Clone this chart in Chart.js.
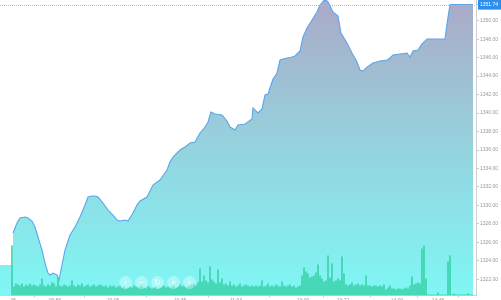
<!DOCTYPE html>
<html lang="zh">
  <head>
    <meta charset="UTF-8" />
    <title>分时走势</title>
    <style>
      * {
        box-sizing: border-box;
        margin: 0;
        padding: 0;
      }

      body {
        background: #fff;
        width: 501px;
        height: 300px;
        overflow: hidden;
        font-family: "Liberation Sans", Arial, sans-serif;
      }

      .wrap {
        position: relative;
        width: 501px;
        height: 300px;
      }

      .zoom-btns {
        position: absolute;
        left: 119px;
        top: 276px;
        display: flex;
        gap: 3px;
      }

      .zoom-btns span {
        width: 13px;
        height: 13px;
        border-radius: 50%;
        background: rgba(255, 255, 255, 0.35);
        color: rgba(255, 255, 255, 0.9);
        font-size: 8px;
        line-height: 13px;
        text-align: center;
      }
    </style>
    <script src="https://cdn.jsdelivr.net/npm/chart.js"></script>
  </head>
  <body>
    <div class="wrap">
      <canvas id="priceChart" width="501" height="300"></canvas>
      <div class="zoom-btns">
        <span>‹</span><span>−</span><span>↻</span><span>+</span><span>›</span>
      </div>
    </div>
    <script>
      // time index: one step per ~2 minutes of session
      const X_MAX = 238;
      const X_TICK_POS = [6.5, 27.5, 56.5, 90, 118, 151.5, 171.5, 198.5, 219];
      const X_TICK_LABELS = ["48", "09:56", "10:05", "10:35", "11:03", "13:00", "13:22", "14:00", "14:45"];

      const Y_MIN = 1320.25;
      const Y_MAX = 1352.24;
      const Y_TICKS = [1322, 1324, 1326, 1328, 1330, 1332, 1334, 1336, 1338, 1340, 1342, 1344, 1346, 1348, 1350];
      const LAST_PRICE = 1351.74;

      // before the open
      const PRE_T = [0, 6.5];
      const PRE_V = [1323.55, 1323.55];

      const PRICE_T = [
        6.5, 8.5, 10, 12.5, 14, 16, 17.5, 19, 21, 22.5,
        24, 25, 26.5, 28.5, 29.5, 31, 32.5, 35, 37.5, 40,
        42.5, 44, 46, 47.5, 49, 51.5, 54, 56.5, 58.5, 60,
        62.5, 64, 66.5, 68.5, 70, 73.5, 76.5, 80, 83.5, 85,
        86.5, 90, 92.5, 95, 97.5, 100, 102.5, 104, 105.5, 107.5,
        111, 113.5, 115, 117.5, 119, 122.5, 126, 126.5, 129, 131,
        132.5, 134, 136.5, 138.5, 140, 141.5, 143.5, 146, 147.5, 150,
        151.5, 153.5, 156, 158.5, 160, 162.5, 164, 166.5, 169, 170.5,
        173.5, 176, 178.5, 180, 181.5, 183.5, 186.5, 190, 193.5, 195,
        196.5, 200, 203.5, 205, 206.5, 209, 211, 213.5, 216.5, 222.5,
        223.5, 225, 236.5,
      ];
      const PRICE_V = [
        1327.01, 1328.1, 1328.64, 1328.75, 1328.64, 1328.31, 1327.66, 1326.58, 1325.17, 1323.76,
        1322.68, 1322.47, 1322.68, 1322.47, 1321.92, 1323.55, 1325.17, 1326.8, 1327.66, 1328.75,
        1330.04, 1330.91, 1331.02, 1331.02, 1330.91, 1330.26, 1329.5, 1328.96, 1328.42, 1328.31,
        1328.42, 1328.31, 1329.18, 1330.04, 1330.48, 1330.91, 1332.21, 1332.75, 1333.83, 1334.7,
        1335.24, 1336.0, 1336.32, 1336.76, 1336.87, 1337.84, 1338.49, 1339.03, 1340.12, 1339.9,
        1339.79, 1339.14, 1338.49, 1338.17, 1338.71, 1338.82, 1339.36, 1340.55, 1340.01, 1340.44,
        1341.96, 1342.06, 1343.69, 1344.34, 1345.75, 1345.86, 1345.97, 1346.07, 1346.18, 1346.72,
        1348.24, 1349.21, 1350.08, 1350.95, 1351.7, 1352.3, 1352.03, 1350.95, 1350.51, 1348.67,
        1347.59, 1346.5, 1345.53, 1344.66, 1344.55, 1344.98, 1345.42, 1345.64, 1345.75, 1345.96,
        1346.29, 1346.4, 1346.5, 1346.07, 1346.72, 1346.83, 1347.48, 1348.02, 1348.02, 1348.02,
        1349.65, 1351.74, 1351.74,
      ];

      // volume, one bar per time step starting at VOL_START
      const VOL_START = 6;
      const VOL_AXIS_MAX = 295;
      const VOLUME = [
        50, 9, 12, 11, 10, 12, 9, 11, 10, 12,
        10, 11, 10, 9, 11, 17, 10, 9, 11, 10,
        13, 12, 9, 18, 10, 9, 11, 10, 9, 10,
        15, 10, 9, 11, 10, 12, 9, 10, 11, 9,
        10, 11, 9, 10, 11, 10, 9, 10, 8, 10,
        9, 10, 8, 9, 10, 8, 9, 7, 8, 9,
        8, 10, 9, 8, 9, 10, 8, 7, 9, 8,
        7, 8, 9, 7, 8, 9, 10, 8, 9, 8,
        9, 10, 8, 9, 11, 9, 10, 8, 9, 10,
        11, 12, 10, 13, 27, 14, 20, 15, 13, 29,
        16, 14, 12, 26, 13, 17, 11, 12, 10, 14,
        10, 11, 9, 10, 12, 9, 10, 11, 10, 9,
        10, 9, 10, 9, 10, 15, 9, 10, 12, 9,
        10, 9, 11, 10, 9, 14, 10, 9, 10, 11,
        9, 10, 8, 9, 10, 20, 28, 24, 22, 18,
        19, 20, 23, 31, 20, 17, 14, 15, 40, 18,
        32, 14, 15, 17, 15, 39, 22, 11, 10, 11,
        13, 10, 11, 12, 10, 11, 10, 20, 10, 10,
        9, 10, 10, 9, 10, 9, 11, 6, 8, 10,
        7, 7, 6, 7, 7, 6, 7, 8, 7, 10,
        19, 11, 12, 13, 12, 47, 50, 17, 1, 1,
        1, 1, 1, 3, 1, 1, 1, 1, 34, 40,
        1, 2, 1, 1, 1, 1, 1, 1, 2, 1, 1,
      ];

      const FONT = { family: "'Liberation Sans', Arial, sans-serif", size: 5 };

      function areaGradient(ctx) {
        const area = ctx.chart.chartArea;
        if (!area) return "#8fe6ea";
        const g = ctx.chart.ctx.createLinearGradient(0, area.top, 0, area.bottom);
        g.addColorStop(0, "#aba9c7");
        g.addColorStop(0.5, "#95d3de");
        g.addColorStop(1, "#7ff7f5");
        return g;
      }

      const lastPriceLine = {
        id: "lastPriceLine",
        afterDatasetsDraw(chart) {
          const { ctx, chartArea } = chart;
          const y = Math.round(chart.scales.y.getPixelForValue(LAST_PRICE)) + 0.5;
          ctx.save();
          ctx.strokeStyle = "#8ec6f2";
          ctx.lineWidth = 1;
          ctx.setLineDash([1, 1]);
          ctx.beginPath();
          ctx.moveTo(chartArea.left, y);
          ctx.lineTo(chartArea.right, y);
          ctx.stroke();
          ctx.restore();
        },
      };

      const zeroPadding = (s) => {
        s.paddingTop = 0;
        s.paddingBottom = 0;
        s.paddingLeft = 0;
        s.paddingRight = 0;
      };

      new Chart(document.getElementById("priceChart"), {
        type: "line",
        data: {
          datasets: [
            {
              type: "bar",
              data: VOLUME.map((v, i) => ({ x: VOL_START + i, y: v })),
              yAxisID: "yVol",
              backgroundColor: "rgba(56, 210, 168, 0.9)",
              barPercentage: 0.9,
              categoryPercentage: 1,
              order: 0,
            },
            {
              data: PRICE_T.map((t, i) => ({ x: t, y: PRICE_V[i] })),
              yAxisID: "y",
              borderColor: "#5aa6ec",
              borderWidth: 1.1,
              pointRadius: 0,
              tension: 0,
              fill: "start",
              backgroundColor: areaGradient,
              order: 1,
            },
            {
              data: PRE_T.map((t, i) => ({ x: t, y: PRE_V[i] })),
              yAxisID: "y",
              borderWidth: 0,
              borderColor: "rgba(0,0,0,0)",
              pointRadius: 0,
              fill: "start",
              backgroundColor: areaGradient,
              order: 2,
            },
          ],
        },
        options: {
          responsive: false,
          animation: false,
          layout: { padding: 0 },
          plugins: {
            legend: { display: false },
            tooltip: { enabled: false },
          },
          scales: {
            x: {
              type: "linear",
              min: 0,
              max: X_MAX,
              offset: false,
              afterFit: (s) => {
                s.height = 4.5;
                zeroPadding(s);
              },
              afterBuildTicks: (s) => {
                s.ticks = X_TICK_POS.map((v) => ({ value: v }));
              },
              grid: { drawOnChartArea: false, tickLength: 2, color: "#c8c8c8" },
              border: { color: "#cfcfcf" },
              ticks: {
                autoSkip: false,
                maxRotation: 0,
                padding: 0,
                font: FONT,
                color: "#999",
                callback: (v, i) => X_TICK_LABELS[i],
              },
            },
            y: {
              position: "right",
              min: Y_MIN,
              max: Y_MAX,
              afterFit: (s) => {
                s.width = 25;
                zeroPadding(s);
              },
              afterBuildTicks: (s) => {
                s.ticks = Y_TICKS.concat([LAST_PRICE]).map((v) => ({ value: v }));
              },
              grid: { drawOnChartArea: false, tickLength: 3, color: "#c8c8c8" },
              border: { color: "#d0d0d0" },
              ticks: {
                padding: 1,
                font: FONT,
                color: (c) => (c.tick && c.tick.value === LAST_PRICE ? "#fff" : "#999"),
                callback: (v) => Number(v).toFixed(2),
                showLabelBackdrop: (c) => !!(c.tick && c.tick.value === LAST_PRICE),
                backdropColor: "#2b8ff0",
                backdropPadding: { top: 2, bottom: 2, left: 2, right: 3 },
              },
            },
            yVol: {
              display: false,
              min: 0,
              max: VOL_AXIS_MAX,
            },
          },
        },
        plugins: [lastPriceLine],
      });
    </script>
  </body>
</html>
